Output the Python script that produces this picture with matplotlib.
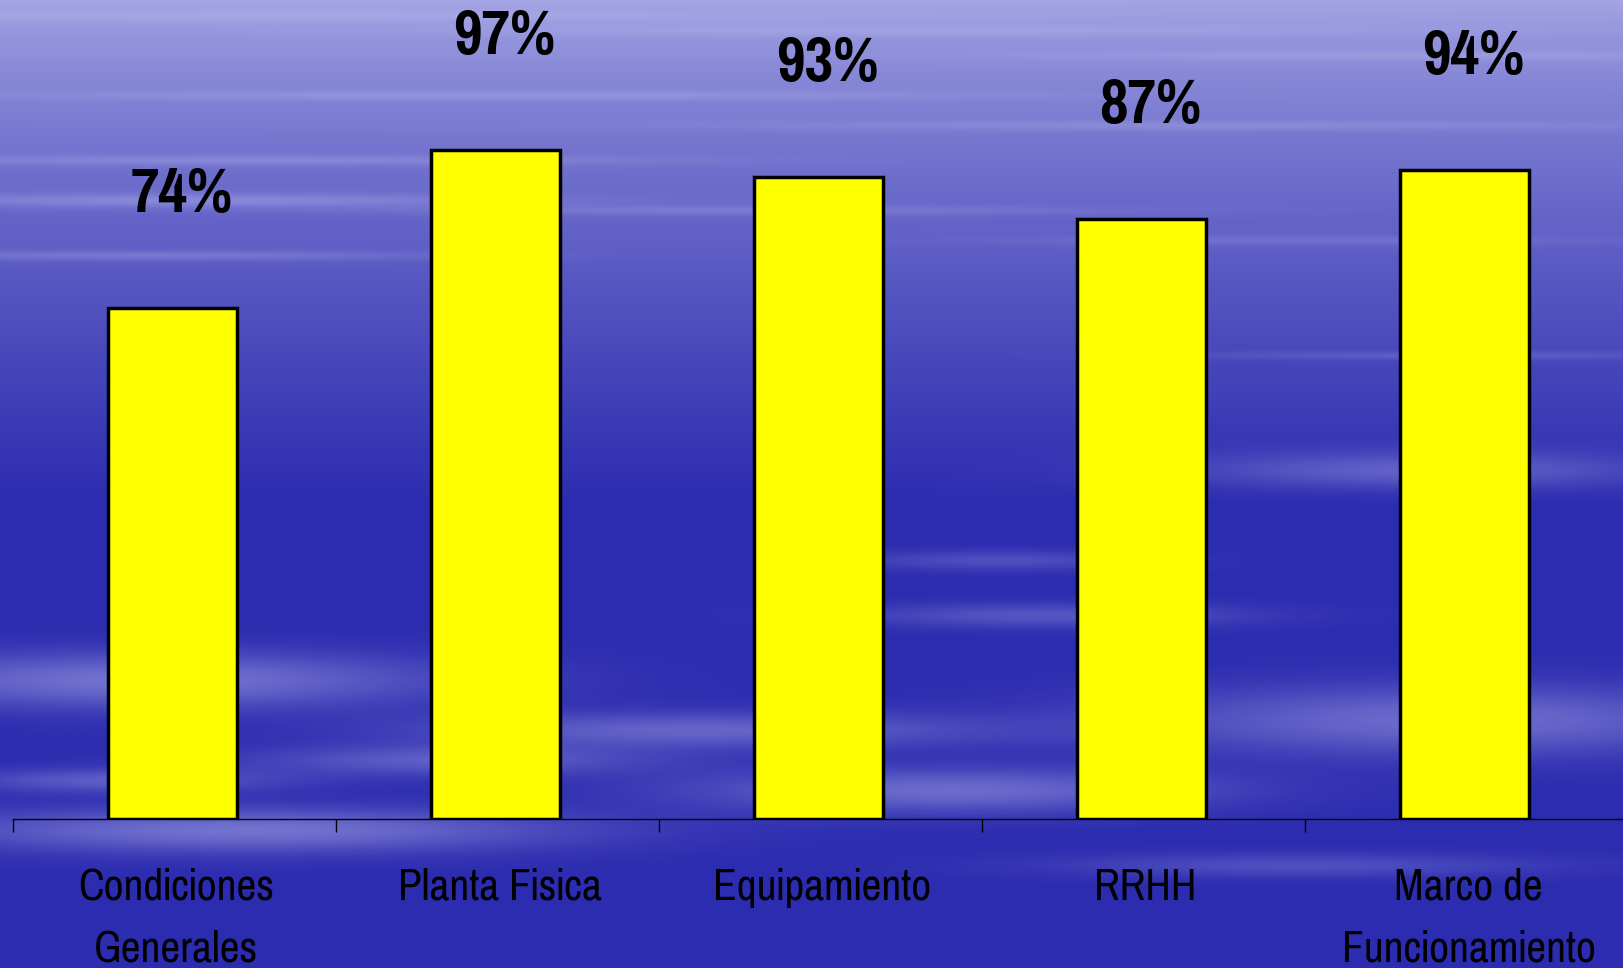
import numpy as np
import matplotlib
matplotlib.use("Agg")
import matplotlib.pyplot as plt
from matplotlib.transforms import blended_transform_factory, offset_copy

categories = ["Condiciones\nGenerales", "Planta Fisica", "Equipamiento", "RRHH", "Marco de\nFuncionamiento"]
values = [74, 97, 93, 87, 94]
value_labels = ["74%", "97%", "93%", "87%", "94%"]

W, H, DPI = 1624, 968, 100
fig = plt.figure(figsize=(W / DPI, H / DPI), dpi=DPI)

# ---- background (sky with soft cloud streaks) ----
yy, xx = np.mgrid[0:H, 0:W].astype(float)
top = np.array([165, 165, 228]) / 255
mid = np.array([44, 44, 176]) / 255
s = np.clip(yy / (H * 0.52), 0, 1) ** 0.75
img = top[None, None, :] * (1 - s[..., None]) + mid[None, None, :] * s[..., None]
cloud = np.array([185, 185, 238]) / 255
streaks = [
    (300, 15, 600, 6, 0.35), (900, 30, 500, 6, 0.3), (1400, 55, 400, 5, 0.3),
    (500, 95, 500, 5, 0.3), (1200, 125, 500, 5, 0.25), (250, 160, 400, 5, 0.3),
    (200, 200, 320, 7, 0.4), (750, 210, 350, 5, 0.25), (1300, 240, 300, 5, 0.2),
    (150, 255, 300, 5, 0.3), (1450, 355, 250, 4, 0.2),
    (1420, 470, 230, 18, 0.35), (1000, 560, 150, 10, 0.25), (1050, 615, 200, 12, 0.3),
    (150, 680, 300, 28, 0.5), (700, 730, 280, 18, 0.4), (1450, 720, 320, 35, 0.45),
    (950, 790, 260, 22, 0.45), (250, 830, 320, 22, 0.5), (450, 760, 200, 15, 0.35),
    (1300, 865, 250, 12, 0.25), (120, 780, 160, 12, 0.35),
]
w = np.zeros((H, W))
for xc, yc, sx, sy, a in streaks:
    w += a * np.exp(-((xx - xc) / sx) ** 2 - ((yy - yc) / sy) ** 2)
w = np.clip(w, 0, 0.75)
img = img * (1 - w[..., None]) + cloud[None, None, :] * w[..., None]
bg = fig.add_axes([0, 0, 1, 1], zorder=-5)
bg.imshow(img, aspect="auto", interpolation="bilinear")
bg.axis("off")

# ---- chart ----
ax = fig.add_axes([13 / W, 149 / H, 1615 / W, 690 / H])
ax.set_facecolor("none")
x = np.arange(len(categories))
ax.bar(x - 0.005, [v / 100 for v in values], width=0.4, color="#ffff00", edgecolor="black", linewidth=2.5, zorder=3)
ax.set_xlim(-0.5, len(categories) - 0.5)
ax.set_ylim(0, 1)
for sp in ["top", "right", "left"]:
    ax.spines[sp].set_visible(False)
ax.spines["bottom"].set_color("black")
ax.spines["bottom"].set_linewidth(1)
ax.set_yticks([])
ax.set_xticks(np.arange(len(categories) + 1) - 0.5)
ax.set_xticklabels([])
ax.tick_params(axis="x", direction="out", length=9.5, width=1, color="black")

px = 72 / DPI
for i, (v, lab) in enumerate(zip(values, value_labels)):
    ax.annotate(lab, xy=(i, v / 100), xytext=(7 * px, 96 * px), textcoords="offset points",
                ha="center", va="baseline", fontsize=49, fontweight="bold",
                family="Pragati Narrow", color="black", annotation_clip=False)

trans = blended_transform_factory(ax.transData, ax.transAxes)
for i, cat in enumerate(categories):
    for j, line in enumerate(cat.split("\n")):
        t = offset_copy(trans, fig=fig, x=2 * px, y=-(81 + 62 * j) * px, units="points")
        ax.text(i, 0, line, transform=t, ha="center", va="baseline", fontsize=34,
                family="Pragati Narrow", color="black", clip_on=False)

fig.savefig("out.png", dpi=DPI)
